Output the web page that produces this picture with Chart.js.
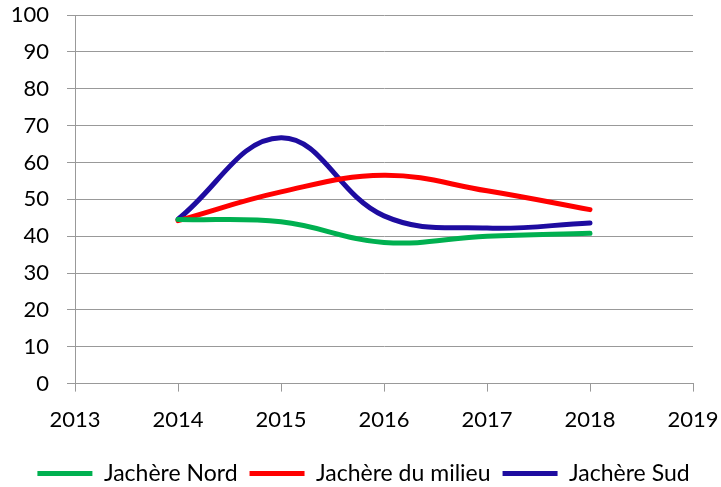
<!DOCTYPE html>
<html>
<head>
<meta charset="utf-8">
<script src="https://cdn.jsdelivr.net/npm/chart.js@4/dist/chart.umd.min.js"></script>
<style>
  html, body { margin: 0; padding: 0; background: #fff; }
  #wrap { width: 721px; height: 487px; position: relative; }
</style>
</head>
<body>
<div id="wrap"><canvas id="c"></canvas></div>
<script>
// Years observed and values for each fallow plot
const years = [2014, 2015, 2016, 2017, 2018];
const jachereNord = [44.5, 43.9, 38.3, 40.0, 40.8];
const jachereMilieu = [44.2, 52.0, 56.5, 52.3, 47.2];
const jachereSud = [44.6, 66.7, 45.5, 42.2, 43.6];
const seriesNames = ['Jachère Nord', 'Jachère du milieu', 'Jachère Sud'];
const seriesColors = ['#00B050', '#FF0000', '#1E0CA0'];

const toPoints = vals => vals.map((v, i) => ({ x: years[i], y: v }));
const allSeries = [jachereNord, jachereMilieu, jachereSud];

const fontFamily = 'Lato, "Open Sans", sans-serif';

// Nudge the legend row to the right so it spans the full width under the axis labels
const legendShift = {
  id: 'legendShift',
  afterLayout(chart) {
    if (chart.legend) {
      chart.legend.left += 17;
      chart.legend.right += 17;
    }
  }
};

new Chart(document.getElementById('c'), {
  type: 'line',
  data: {
    datasets: allSeries.map((vals, i) => ({
      label: seriesNames[i],
      data: toPoints(vals),
      borderColor: seriesColors[i],
      backgroundColor: seriesColors[i],
      borderWidth: 5,
      pointRadius: 0,
      tension: 0.4,
      borderCapStyle: 'round',
      fill: false
    }))
  },
  plugins: [legendShift],
  options: {
    responsive: true,
    maintainAspectRatio: false,
    animation: false,
    layout: { padding: { left: 0, right: 28, top: 15, bottom: -8 } },
    plugins: {
      tooltip: { enabled: false },
      legend: {
        position: 'bottom',
        labels: {
          color: '#000',
          font: { family: fontFamily, size: 23 },
          usePointStyle: true,
          pointStyle: 'line',
          pointStyleWidth: 55,
          padding: 12
        }
      }
    },
    scales: {
      x: {
        type: 'linear',
        min: 2013,
        max: 2019,
        afterFit: scale => {
          scale.height += 2;
          scale.paddingLeft = 0;
          scale.paddingRight = 0;
        },
        ticks: {
          stepSize: 1,
          color: '#000',
          font: { family: fontFamily, size: 22 },
          padding: 15,
          maxRotation: 0,
          callback: v => String(v)
        },
        grid: { drawOnChartArea: false, color: '#999', tickLength: 8 },
        border: { color: '#999', width: 1 }
      },
      y: {
        min: 0,
        max: 100,
        afterFit: scale => {
          scale.width = 75;
          scale.paddingTop = 0;
          scale.paddingBottom = 0;
        },
        ticks: {
          stepSize: 10,
          color: '#000',
          font: { family: fontFamily, size: 22 },
          padding: 18
        },
        grid: { color: '#999', tickLength: 8, lineWidth: 1 },
        border: { color: '#999', width: 1 }
      }
    }
  }
});
</script>
</body>
</html>
